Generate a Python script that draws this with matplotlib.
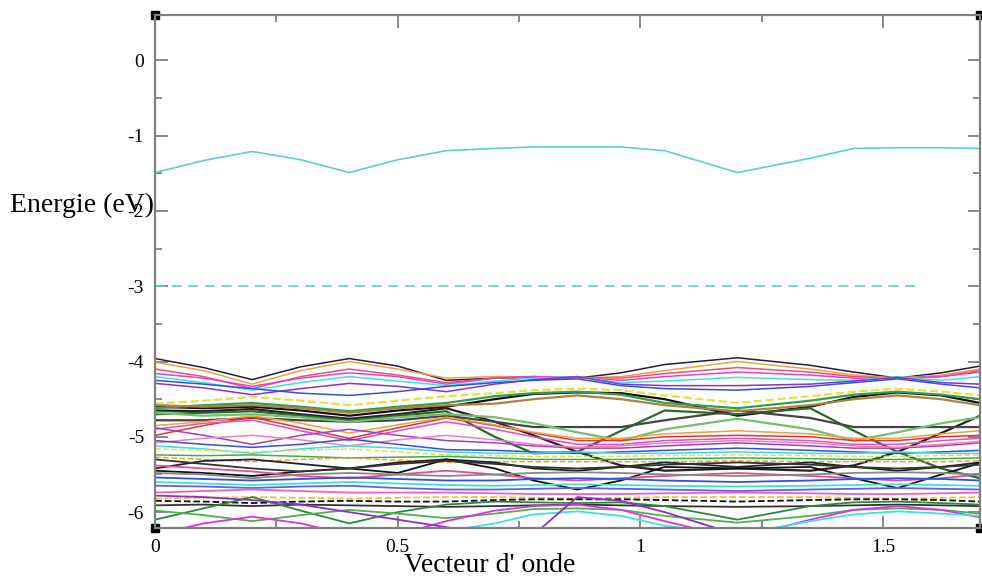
import matplotlib
matplotlib.use("Agg")
import matplotlib.pyplot as plt

plt.rcParams['font.family'] = ['Liberation Serif', 'DejaVu Serif']
plt.rcParams['axes.unicode_minus'] = False

# wave vector sampling points
k = [0, .1, .2, .3, .4, .5, .6, .7, .78, .87, .96, 1.05, 1.2, 1.35, 1.44, 1.53, 1.62, 1.7]

# conduction band and the flat dashed level
cond_band = [-1.49, -1.33, -1.21, -1.32, -1.49, -1.32, -1.2, -1.17, -1.15, -1.15, -1.15, -1.2, -1.49, -1.3, -1.17, -1.16, -1.16, -1.17]
flat_k = [0, 1.567]
flat_e = [-3.0, -3.0]

# upper valence group (-3.9 .. -4.5)
top_bands = [
    [-3.96, -4.08, -4.24, -4.07, -3.96, -4.06, -4.25, -4.22, -4.21, -4.22, -4.15, -4.04, -3.95, -4.05, -4.14, -4.22, -4.15, -4.06],
    [-4.01, -4.12, -4.30, -4.12, -4.00, -4.10, -4.22, -4.20, -4.20, -4.22, -4.20, -4.12, -4.00, -4.10, -4.18, -4.22, -4.18, -4.10],
    [-4.10, -4.20, -4.36, -4.20, -4.10, -4.18, -4.28, -4.22, -4.20, -4.21, -4.22, -4.16, -4.08, -4.14, -4.20, -4.22, -4.20, -4.12],
    [-4.16, -4.22, -4.33, -4.22, -4.15, -4.20, -4.30, -4.22, -4.20, -4.21, -4.25, -4.20, -4.14, -4.18, -4.22, -4.22, -4.20, -4.14],
    [-4.20, -4.28, -4.38, -4.28, -4.20, -4.26, -4.32, -4.26, -4.22, -4.20, -4.28, -4.26, -4.21, -4.24, -4.25, -4.20, -4.25, -4.20],
    [-4.29, -4.35, -4.44, -4.36, -4.29, -4.33, -4.40, -4.30, -4.24, -4.20, -4.30, -4.32, -4.32, -4.30, -4.26, -4.21, -4.28, -4.30],
    [-4.25, -4.30, -4.36, -4.42, -4.45, -4.40, -4.33, -4.28, -4.25, -4.23, -4.32, -4.36, -4.38, -4.33, -4.28, -4.23, -4.30, -4.35],
]
top_colors = ['#2a1a3a', '#f0a040', '#f05070', '#e040e0', '#40e0e0', '#9030c0', '#3050e0']

# thick cluster around -4.6 with the "eyes" near k=0.87 and k=1.53
mid_bands = [
    [-4.56, -4.52, -4.47, -4.52, -4.58, -4.52, -4.46, -4.42, -4.38, -4.36, -4.38, -4.45, -4.55, -4.46, -4.40, -4.36, -4.40, -4.45],
    [-4.60, -4.62, -4.60, -4.65, -4.72, -4.65, -4.60, -4.50, -4.43, -4.41, -4.42, -4.50, -4.72, -4.60, -4.47, -4.41, -4.45, -4.55],
    [-4.65, -4.66, -4.63, -4.70, -4.76, -4.70, -4.62, -4.80, -4.98, -5.20, -5.38, -5.45, -5.42, -5.45, -5.38, -5.20, -4.95, -4.72],
    [-4.70, -4.68, -4.66, -4.72, -4.78, -4.72, -4.66, -5.00, -5.22, -5.20, -4.92, -4.65, -4.70, -4.62, -4.92, -5.20, -5.42, -5.55],
    [-4.78, -4.78, -4.75, -4.78, -4.80, -4.78, -4.72, -4.80, -4.87, -4.87, -4.87, -4.78, -4.65, -4.75, -4.87, -4.87, -4.87, -4.87],
    [-4.62, -4.58, -4.55, -4.60, -4.66, -4.60, -4.55, -4.46, -4.42, -4.40, -4.44, -4.55, -4.62, -4.52, -4.44, -4.40, -4.44, -4.50],
    [-4.68, -4.72, -4.70, -4.74, -4.80, -4.74, -4.70, -4.74, -4.82, -4.94, -5.05, -4.90, -4.76, -4.90, -5.05, -4.94, -4.82, -4.74],
    [-4.58, -4.60, -4.58, -4.62, -4.68, -4.62, -4.58, -4.56, -4.50, -4.45, -4.50, -4.58, -4.66, -4.58, -4.50, -4.45, -4.50, -4.58],
]
mid_colors = ['#e8e040', '#111111', '#222222', '#2a6a2a', '#444444', '#30a050', '#70c070', '#b08040']
mid_styles = ['--', '-', '-', '-', '-', '-', '-', '-']

# band group around -5
low_bands = [
    [-4.98, -4.85, -4.74, -4.88, -5.02, -4.88, -4.75, -4.85, -4.95, -5.05, -5.05, -5.00, -4.98, -5.00, -5.05, -5.05, -5.00, -4.98],
    [-4.90, -4.82, -4.78, -4.92, -5.05, -4.92, -4.80, -4.90, -5.00, -5.10, -5.10, -5.05, -5.02, -5.05, -5.10, -5.10, -5.05, -5.02],
    [-4.85, -4.80, -4.72, -4.82, -4.95, -4.84, -4.74, -4.84, -4.94, -5.02, -5.02, -4.96, -4.92, -4.96, -5.02, -5.02, -4.96, -4.92],
    [-4.88, -4.98, -5.10, -4.98, -4.90, -4.98, -5.05, -5.08, -5.12, -5.15, -5.15, -5.12, -5.08, -5.12, -5.15, -5.15, -5.12, -5.08],
    [-5.08, -5.02, -4.98, -5.04, -5.12, -5.04, -4.98, -5.04, -5.10, -5.14, -5.12, -5.08, -5.05, -5.08, -5.12, -5.14, -5.10, -5.06],
    [-5.05, -5.10, -5.14, -5.10, -5.03, -5.10, -5.17, -5.18, -5.20, -5.22, -5.20, -5.18, -5.15, -5.18, -5.20, -5.22, -5.20, -5.18],
    [-5.12, -5.16, -5.22, -5.16, -5.12, -5.15, -5.20, -5.22, -5.22, -5.20, -5.22, -5.22, -5.20, -5.22, -5.22, -5.20, -5.22, -5.22],
    [-5.16, -5.18, -5.20, -5.18, -5.16, -5.20, -5.24, -5.25, -5.26, -5.26, -5.26, -5.25, -5.24, -5.25, -5.26, -5.26, -5.25, -5.24],
    [-5.24, -5.25, -5.24, -5.26, -5.28, -5.27, -5.26, -5.28, -5.30, -5.30, -5.30, -5.29, -5.28, -5.29, -5.30, -5.30, -5.29, -5.28],
    [-5.27, -5.30, -5.33, -5.30, -5.28, -5.31, -5.34, -5.33, -5.33, -5.33, -5.33, -5.33, -5.32, -5.33, -5.33, -5.33, -5.33, -5.32],
]
low_colors = ['#f03030', '#e050c0', '#f0a040', '#a040c0', '#f080b0', '#3050e0', '#40d8e0', '#e0e060', '#40b040', '#f0a040']
low_styles = ['-', '-', '-', '-', '-', '-', '-', '--', '-', '--']

# deep group (-5.3 .. -6.2)
deep_bands = [
    [-5.42, -5.32, -5.30, -5.36, -5.42, -5.34, -5.30, -5.34, -5.42, -5.45, -5.40, -5.34, -5.40, -5.34, -5.40, -5.45, -5.40, -5.34],
    [-5.45, -5.48, -5.52, -5.46, -5.42, -5.48, -5.30, -5.42, -5.58, -5.70, -5.58, -5.40, -5.42, -5.40, -5.55, -5.68, -5.50, -5.35],
    [-5.30, -5.36, -5.42, -5.46, -5.42, -5.36, -5.32, -5.36, -5.40, -5.42, -5.40, -5.37, -5.34, -5.37, -5.40, -5.42, -5.40, -5.37],
    [-5.38, -5.42, -5.46, -5.52, -5.55, -5.50, -5.45, -5.50, -5.55, -5.58, -5.55, -5.52, -5.48, -5.52, -5.55, -5.58, -5.55, -5.50],
    [-5.48, -5.50, -5.55, -5.50, -5.48, -5.50, -5.52, -5.50, -5.48, -5.47, -5.48, -5.50, -5.52, -5.50, -5.48, -5.47, -5.48, -5.50],
    [-5.54, -5.56, -5.58, -5.56, -5.54, -5.56, -5.58, -5.58, -5.56, -5.55, -5.56, -5.58, -5.60, -5.58, -5.56, -5.55, -5.56, -5.58],
    [-5.60, -5.62, -5.64, -5.62, -5.60, -5.62, -5.64, -5.65, -5.64, -5.63, -5.64, -5.65, -5.66, -5.65, -5.64, -5.63, -5.64, -5.65],
    [-5.65, -5.66, -5.68, -5.66, -5.65, -5.68, -5.70, -5.70, -5.69, -5.68, -5.69, -5.70, -5.72, -5.70, -5.69, -5.68, -5.69, -5.70],
    [-5.74, -5.72, -5.70, -5.72, -5.74, -5.74, -5.74, -5.75, -5.76, -5.76, -5.76, -5.75, -5.74, -5.75, -5.76, -5.76, -5.75, -5.74],
    [-5.82, -5.81, -5.80, -5.81, -5.82, -5.81, -5.80, -5.80, -5.81, -5.82, -5.81, -5.80, -5.80, -5.80, -5.81, -5.82, -5.81, -5.80],
    [-5.85, -5.86, -5.88, -5.86, -5.85, -5.86, -5.86, -5.84, -5.83, -5.83, -5.83, -5.84, -5.86, -5.84, -5.83, -5.83, -5.84, -5.86],
    [-5.91, -5.90, -5.92, -5.90, -5.91, -5.92, -5.93, -5.92, -5.91, -5.90, -5.91, -5.92, -5.93, -5.92, -5.91, -5.90, -5.91, -5.92],
    [-6.10, -5.95, -5.80, -5.98, -6.15, -6.00, -5.90, -5.86, -5.87, -5.88, -5.87, -5.92, -6.10, -5.92, -5.87, -5.86, -5.88, -5.90],
    [-5.98, -6.04, -6.12, -6.04, -5.97, -6.02, -6.08, -6.02, -5.96, -5.95, -5.97, -6.05, -6.14, -6.05, -5.97, -5.95, -5.97, -6.02],
    [-6.30, -6.15, -6.06, -6.15, -6.30, -6.30, -6.12, -5.98, -5.92, -5.90, -5.97, -6.12, -6.35, -6.10, -5.97, -5.92, -5.97, -6.07],
    [-6.30, -6.30, -6.25, -6.30, -6.30, -6.30, -6.25, -6.15, -6.03, -5.99, -6.05, -6.18, -6.30, -6.12, -6.03, -5.99, -6.02, -6.05],
    [-5.78, -5.80, -5.84, -5.90, -6.00, -6.10, -6.20, -6.30, -6.30, -5.80, -5.85, -6.00, -6.30, -6.30, -6.30, -6.30, -6.30, -6.30],
]
deep_colors = ['#222222', '#111111', '#333333', '#e05090', '#888888', '#3050e0', '#40e0e0', '#6060f0', '#f060c0',
               '#f0c040', '#111111', '#333333', '#2a8a3a', '#50b050', '#e030e0', '#40e0e0', '#8a30d0']
deep_styles = ['-', '-', '-', '-', '-', '-', '-', '-', '-', '--', '--', '-', '-', '-', '-', '-', '-']

fig = plt.figure(figsize=(9.82, 5.84), dpi=100)
ax = fig.add_axes([0.158, 0.096, 0.84, 0.878])

ax.plot(k, cond_band, color='#5ccfcf', lw=1.2)
ax.plot(flat_k, flat_e, color='#5ccfcf', lw=1.2, ls=(0, (6, 4)))

for e, c in zip(top_bands, top_colors):
    ax.plot(k, e, color=c, lw=1.1)
for e, c, s in zip(mid_bands, mid_colors, mid_styles):
    ax.plot(k, e, color=c, lw=1.6, ls=s)
for e, c, s in zip(low_bands, low_colors, low_styles):
    ax.plot(k, e, color=c, lw=1.1, ls=s)
for e, c, s in zip(deep_bands, deep_colors, deep_styles):
    ax.plot(k, e, color=c, lw=1.3, ls=s)

ax.set_xlim(0, 1.7)
ax.set_ylim(-6.21, 0.6)
ax.set_xticks([0, 0.5, 1, 1.5])
ax.set_xticklabels(['0', '0.5', '1', '1.5'])
ax.set_xticks([0.25, 0.75, 1.25], minor=True)
ax.set_yticks([0, -1, -2, -3, -4, -5, -6])
ax.set_yticklabels(['0', '-1', '-2', '-3', '-4', '-5', '-6'])
ax.set_yticks([-0.5, -1.5, -2.5, -3.5, -4.5, -5.5], minor=True)

for sp in ax.spines.values():
    sp.set_color('#808080')
    sp.set_linewidth(1.6)
ax.tick_params(which='both', direction='in', top=True, right=True, color='#808080', labelsize=14, width=1.3)
ax.tick_params(which='major', length=9, pad=8)
ax.tick_params(which='minor', length=5)

# corner markers
ax.plot([0, 1, 0, 1], [0, 0, 1, 1], 's', color='k', ms=6, transform=ax.transAxes, clip_on=False)

fig.text(0.01, 0.648, "Energie (eV)", fontsize=20, ha='left', va='center')
fig.text(0.499, 0.032, "Vecteur d' onde", fontsize=20, ha='center', va='center')

fig.savefig("out.png", dpi=100)
